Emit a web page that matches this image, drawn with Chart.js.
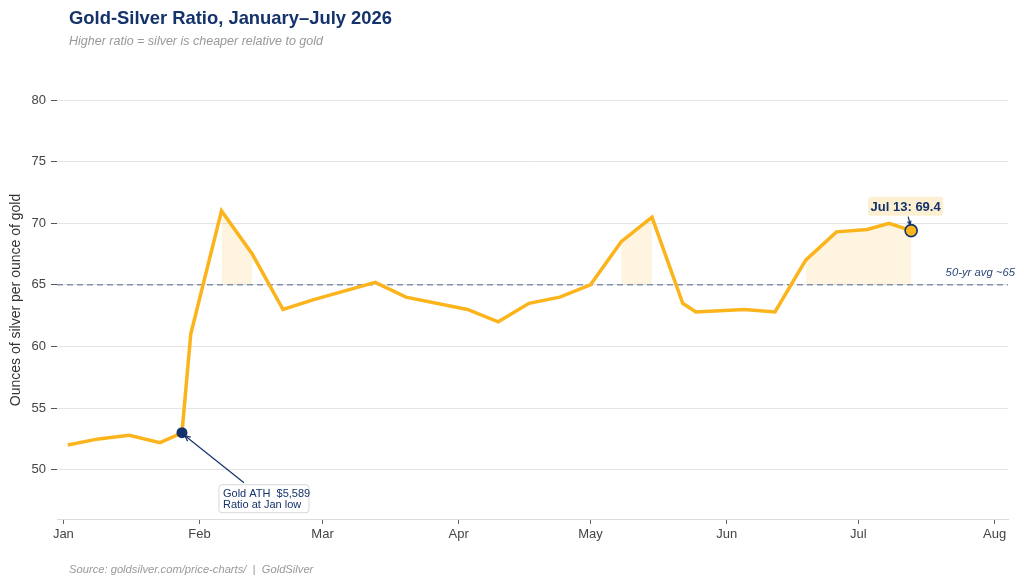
<!DOCTYPE html>
<html><head><meta charset="utf-8">
<script src="https://cdn.jsdelivr.net/npm/chart.js@4.4.1/dist/chart.umd.min.js"></script>
<style>html,body{margin:0;padding:0;background:#fff}#wrap{width:1024px;height:585px;position:relative}canvas{display:block}</style>
</head><body><div id="wrap"><canvas id="c" width="1024" height="585" style="width:1024px;height:585px"></canvas></div>
<script>
// ---- data ----
const dates = ['2026-01-02','2026-01-09','2026-01-16','2026-01-23','2026-01-28','2026-01-30',
  '2026-02-06','2026-02-13','2026-02-20','2026-02-27','2026-03-13','2026-03-20',
  '2026-04-03','2026-04-10','2026-04-17','2026-04-24','2026-05-01','2026-05-08',
  '2026-05-15','2026-05-22','2026-05-25','2026-06-05','2026-06-12','2026-06-19',
  '2026-06-26','2026-07-03','2026-07-08','2026-07-13'];
const ratio = [52.0,52.5,52.8,52.2,53.0,61.0,
  71.0,67.5,63.0,63.8,65.2,64.0,
  63.0,62.0,63.5,64.0,65.0,68.5,
  70.5,63.5,62.8,63.0,62.8,67.0,
  69.3,69.5,70.0,69.4];
const monthLabels = ['Jan','Feb','Mar','Apr','May','Jun','Jul','Aug'];
const monthStarts = ['2026-01-01','2026-02-01','2026-03-01','2026-04-01','2026-05-01','2026-06-01','2026-07-01','2026-08-01'];
const yTickValues = [50,55,60,65,70,75,80];
const avgRatio = 65;
const athDate = '2026-01-28';
const athText = ['Gold ATH  $5,589','Ratio at Jan low'];
const lastDate = '2026-07-13';

// ---- helpers ----
const DAY0 = Date.UTC(2026,0,1);
const dayOf = s => (Date.parse(s+'T00:00:00Z') - DAY0)/864e5;
const monthDays = monthStarts.map(dayOf);
const NAVY = '#14336b';
const GOLD = '#fbb41c';
const FONT = '"Liberation Sans", Arial, sans-serif';
const xMin = -1.45, xMax = 215.05;

const linePts = dates.map((d,i)=>({x:dayOf(d), y:ratio[i]}));
const fillPts = dates.map((d,i)=>({x:dayOf(d), y: ratio[i] > avgRatio ? ratio[i] : null}));
const avgPts = [{x:xMin,y:avgRatio},{x:xMax,y:avgRatio}];
const iAth = dates.indexOf(athDate), iLast = dates.indexOf(lastDate);

function arrow(ctx, x1,y1,x2,y2, head){
  ctx.beginPath(); ctx.moveTo(x1,y1); ctx.lineTo(x2,y2); ctx.stroke();
  const a = Math.atan2(y2-y1, x2-x1);
  ctx.beginPath();
  ctx.moveTo(x2 - head*Math.cos(a-0.45), y2 - head*Math.sin(a-0.45));
  ctx.lineTo(x2,y2);
  ctx.lineTo(x2 - head*Math.cos(a+0.45), y2 - head*Math.sin(a+0.45));
  ctx.stroke();
}
function rrect(ctx,x,y,w,h,r){
  ctx.beginPath(); ctx.moveTo(x+r,y); ctx.lineTo(x+w-r,y); ctx.quadraticCurveTo(x+w,y,x+w,y+r);
  ctx.lineTo(x+w,y+h-r); ctx.quadraticCurveTo(x+w,y+h,x+w-r,y+h); ctx.lineTo(x+r,y+h);
  ctx.quadraticCurveTo(x,y+h,x,y+h-r); ctx.lineTo(x,y+r); ctx.quadraticCurveTo(x,y,x+r,y); ctx.closePath();
}

const decor = {
  id:'decor',
  afterDraw(chart){
    const ctx = chart.ctx, xs = chart.scales.x, ys = chart.scales.y;
    ctx.save();
    // titles
    ctx.textAlign='left'; ctx.textBaseline='alphabetic';
    ctx.fillStyle=NAVY; ctx.font='bold 18.4px '+FONT;
    ctx.fillText('Gold-Silver Ratio, January\u2013July 2026', 69, 24);
    ctx.fillStyle='#999'; ctx.font='italic 12.5px '+FONT;
    ctx.fillText('Higher ratio = silver is cheaper relative to gold', 69, 45);
    ctx.font='italic 11.2px '+FONT;
    ctx.fillText('Source: goldsilver.com/price-charts/  |  GoldSilver', 69, 573);
    // y title
    ctx.save(); ctx.translate(20, 300); ctx.rotate(-Math.PI/2);
    ctx.textAlign='center'; ctx.fillStyle='#333'; ctx.font='14px '+FONT;
    ctx.fillText('Ounces of silver per ounce of gold', 0, 0); ctx.restore();
    // avg label
    const yAvg = ys.getPixelForValue(avgRatio);
    ctx.textAlign='right'; ctx.fillStyle='#2c4577'; ctx.font='italic 11.3px '+FONT;
    ctx.fillText('50-yr avg ~'+avgRatio, 1015, yAvg-8.5);
    // ATH annotation
    const ax = xs.getPixelForValue(dayOf(dates[iAth])), ay = ys.getPixelForValue(ratio[iAth]);
    const bx = ax+37, by = ay+52;
    ctx.strokeStyle=NAVY; ctx.lineWidth=1.2;
    arrow(ctx, ax+62, ay+50, ax+3, ay+3, 6);
    rrect(ctx,bx,by,90,28,3); ctx.fillStyle='#fff'; ctx.fill();
    ctx.strokeStyle='#d8d8d8'; ctx.lineWidth=1; ctx.stroke();
    ctx.fillStyle=NAVY; ctx.font='11px '+FONT; ctx.textAlign='left';
    ctx.fillText(athText[0], bx+4, by+12);
    ctx.fillText(athText[1], bx+4, by+23);
    // last value annotation
    const lx = xs.getPixelForValue(dayOf(dates[iLast])), ly = ys.getPixelForValue(ratio[iLast]);
    rrect(ctx, lx-43, ly-34, 75, 19, 3); ctx.fillStyle='#fcefd2'; ctx.fill();
    ctx.fillStyle=NAVY; ctx.font='bold 13px '+FONT; ctx.textAlign='center';
    ctx.fillText('Jul 13: '+ratio[iLast].toFixed(1), lx-5.5, ly-20);
    ctx.strokeStyle=NAVY; ctx.lineWidth=1.2;
    arrow(ctx, lx-3, ly-14, lx-1, ly-6, 4);
    ctx.restore();
  }
};

new Chart(document.getElementById('c'), {
  type:'line',
  data:{ datasets:[
    { data:fillPts, fill:{value:avgRatio}, backgroundColor:'rgba(251,180,28,0.14)', borderWidth:0, pointRadius:0, spanGaps:false, order:3 },
    { data:avgPts, borderColor:'#8391ae', borderWidth:1.5, borderDash:[6,4], pointRadius:0, fill:false, order:2 },
    { data:linePts, borderColor:GOLD, borderWidth:3.5, fill:false, tension:0, order:1,
      pointRadius: c => c.dataIndex===iAth ? 5.5 : (c.dataIndex===iLast ? 6 : 0),
      pointBackgroundColor: c => c.dataIndex===iAth ? NAVY : GOLD,
      pointBorderColor: NAVY,
      pointBorderWidth: c => c.dataIndex===iLast ? 1.6 : 0 }
  ]},
  options:{
    responsive:false, animation:false, devicePixelRatio:1,
    layout:{ padding:{ top:100, right:16, bottom:0, left:0 } },
    plugins:{ legend:{display:false}, tooltip:{enabled:false}, title:{display:false} },
    scales:{
      x:{ type:'linear', min:xMin, max:xMax,
        afterFit: s => { s.height = 66; },
        afterBuildTicks: s => { s.ticks = monthDays.map(v=>({value:v})); },
        ticks:{ callback:(v,i)=>monthLabels[i], color:'#444', font:{family:FONT,size:13}, padding:3, maxRotation:0, autoSkip:false },
        grid:{ drawOnChartArea:false, tickLength:5, tickColor:'#666', tickWidth:1 },
        border:{ display:true, color:'#dcdcdc', width:1 } },
      y:{ min:46, max:80,
        afterFit: s => { s.width = 57; },
        afterBuildTicks: s => { s.ticks = yTickValues.map(v=>({value:v})); },
        ticks:{ color:'#444', font:{family:FONT,size:13}, padding:5 },
        grid:{ color:'#e4e4e4', tickLength:6, tickColor:'#555', lineWidth:1 },
        border:{ display:false } }
    }
  },
  plugins:[decor]
});
</script></body></html>
